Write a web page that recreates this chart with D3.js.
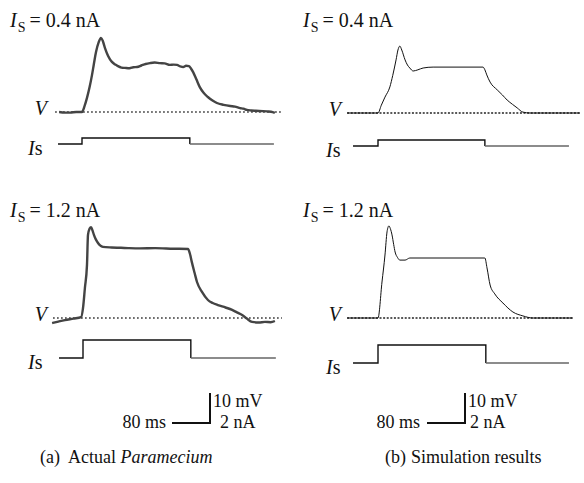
<!DOCTYPE html>
<html>
<head>
<meta charset="utf-8">
<script src="https://cdn.jsdelivr.net/npm/d3@7/dist/d3.min.js"></script>
<style>
  html, body { margin: 0; padding: 0; background: #fff; }
  svg { display: block; font-family: "Liberation Serif", "Times New Roman", serif; }
</style>
</head>
<body>
<svg id="chart" width="584" height="483"></svg>
<script>
// time in ms from stimulus onset, membrane potential in mV above rest
const aTopT = [-48, -36, -25, -12, 0, 5, 10.5, 16, 21, 25, 29.5, 35, 40, 44, 48.4, 55, 63, 70, 76, 83, 90.5, 100, 108, 116, 125, 134, 143, 153, 164, 174, 185, 193, 200, 207, 213, 219, 225, 229, 234, 241, 248, 256, 265, 274, 284, 298, 312, 322, 333, 340, 347, 356, 366, 381, 390, 398, 406];
const aTopV = [0, -0.2, -0.2, 0, 0, 1.8, 4.7, 8.3, 12.3, 16, 20, 23.2, 24.7, 23.6, 21.3, 18.7, 16.7, 15.8, 15.3, 14.8, 14.7, 14.6, 14.9, 15, 15.5, 16, 16.3, 16.5, 16.3, 16.2, 15.7, 15.8, 15.7, 15.2, 15, 15.4, 15.3, 14.6, 13.3, 10.8, 8.3, 6.4, 5, 3.9, 3, 2.4, 2, 1.8, 1.3, 1.1, 0.7, 0.5, 0.4, 0.3, 0.2, 0.1, -0.3];

const bTopT = [-65, 0, 7, 14.7, 25, 31, 38, 42, 46, 50, 57, 62, 67, 74, 84, 95, 116, 221, 225, 229, 236, 251, 262, 272, 283, 293, 305, 320, 425];
const bTopV = [0, 0, 2.6, 5.3, 8.7, 12.5, 17.7, 21, 22.3, 21, 17.7, 16, 15, 14, 14.4, 15, 15.3, 15.3, 14.4, 12.7, 10.3, 7.7, 6, 4.3, 2.9, 1.7, 0.3, 0, 0];

const aBotT = [-65, -52, -38, -20, -4, 0, 4, 8.4, 10.5, 14, 17, 20, 23, 27, 31.6, 36, 42, 60, 80, 95, 120, 152, 190, 221, 225, 229, 235, 240, 250.5, 263, 273, 284, 300, 314, 325, 335, 345, 356, 370, 383, 395, 404];
const aBotV = [-1.7, -1.2, -0.7, -0.2, 0.3, 3.3, 10, 17.7, 27.7, 29.8, 30.3, 29.2, 27.7, 26.2, 25, 24.2, 23.7, 23.5, 23.4, 23.3, 23.2, 23.3, 23.1, 23, 21.5, 18.7, 15, 12, 8.7, 6, 5, 4.3, 3.5, 2.7, 1.8, 1, -0.2, -1.3, -1.5, -1.3, -1.4, -1];

const bBotT = [-65, 0, 8.4, 14.7, 19, 21, 23, 26, 29.5, 33, 36, 41, 46, 57, 67, 225, 229.5, 236, 246, 263, 284, 305, 326, 410];
const bBotV = [0, 0, 12, 21, 28.7, 30.2, 30.7, 29.8, 27.7, 24.5, 22, 20.2, 19.3, 19.3, 20, 20, 16.7, 11, 8, 5, 2, 0.7, 0, 0];

// stimulus current: start, onset, offset, end (ms) and amplitude (nA)
const aTopStim = [-50.5, 0, 227, 404];
const bTopStim = [-52.6, 0, 225, 402];
const aBotStim = [-50.5, 0, 227, 406];
const bBotStim = [-52.6, 0, 227, 402];
const stimAmps = [0.4, 0.4, 1.2, 1.2];
const titles = ["0.4 nA", "0.4 nA", "1.2 nA", "1.2 nA"];

const scaleBarMs = 80, scaleBarMv = 10, scaleBarNa = 2;
const captions = ["Actual", "Simulation results"];

const svg = d3.select("#chart");

const panels = [
  { t: aTopT, v: aTopV, stim: aTopStim, amp: stimAmps[0], title: titles[0], actual: true, dotPad: [-4, 7],
    x0: 82, base: 112, isBase: 144, titleX: 10, titleY: 27, vLabelX: 47, isLabelX: 28 },
  { t: bTopT, v: bTopV, stim: bTopStim, amp: stimAmps[1], title: titles[1], actual: false, dotPad: [0, 0],
    x0: 378, base: 113, isBase: 146, titleX: 303, titleY: 27, vLabelX: 341, isLabelX: 326 },
  { t: aBotT, v: aBotV, stim: aBotStim, amp: stimAmps[2], title: titles[2], actual: true, dotPad: [1, 7],
    x0: 83, base: 318, isBase: 358, titleX: 10, titleY: 217, vLabelX: 47, isLabelX: 28 },
  { t: bBotT, v: bBotV, stim: bBotStim, amp: stimAmps[3], title: titles[3], actual: false, dotPad: [0, 0],
    x0: 378, base: 318, isBase: 363, titleX: 303, titleY: 217, vLabelX: 341, isLabelX: 326 }
];

const pxPerMs = 0.475, pxPerMv = 3.0, pxPerNa = 15;

panels.forEach(p => {
  const x = d3.scaleLinear().domain([0, 1]).range([p.x0, p.x0 + pxPerMs]);
  const yV = d3.scaleLinear().domain([0, 1]).range([p.base, p.base - pxPerMv]);
  const yI = d3.scaleLinear().domain([0, 1]).range([p.isBase, p.isBase - pxPerNa]);
  const g = svg.append("g");

  // title  I_S = ...
  const title = g.append("text")
    .attr("x", p.titleX).attr("y", p.titleY)
    .attr("font-size", 20).attr("fill", "#111");
  title.append("tspan").attr("font-style", "italic").text("I");
  title.append("tspan").attr("font-size", 14).attr("dy", 5).attr("dx", 1).text("S");
  title.append("tspan").attr("dy", -5).attr("dx", 4).text("= " + p.title);

  // dotted rest line
  const tExtent = d3.extent(p.t);
  g.append("line")
    .attr("x1", x(tExtent[0]) + p.dotPad[0]).attr("x2", x(tExtent[1]) + p.dotPad[1])
    .attr("y1", yV(0)).attr("y2", yV(0))
    .attr("stroke", "#222").attr("stroke-width", 1.4)
    .attr("stroke-dasharray", p.actual ? "1.5,2.5" : "2,1.6");

  // membrane potential trace
  const vData = p.t.map((t, i) => [t, p.v[i]]);
  const line = d3.line().x(d => x(d[0])).y(d => yV(d[1])).curve(d3.curveMonotoneX);
  g.append("path")
    .attr("d", line(vData))
    .attr("fill", "none")
    .attr("stroke", p.actual ? "#444" : "#111")
    .attr("stroke-width", p.actual ? 2.4 : 1)
    .attr("stroke-linejoin", "round");

  // stimulus current
  const s = p.stim;
  const iOn = [[s[0], 0], [s[1], p.amp], [s[2], 0]];
  const iOff = [[s[2], 0], [s[3], 0]];
  const step = d3.line().x(d => x(d[0])).y(d => yI(d[1])).curve(d3.curveStepAfter);
  g.append("path").attr("d", step(iOn.concat([[s[2], 0]])))
    .attr("fill", "none").attr("stroke", "#111").attr("stroke-width", 1.4);
  g.append("path").attr("d", step(iOff))
    .attr("fill", "none").attr("stroke", "#666").attr("stroke-width", 1.3);

  // labels
  g.append("text").attr("x", p.vLabelX).attr("y", yV(0) + 3)
    .attr("text-anchor", "end").attr("font-size", 20).attr("font-style", "italic")
    .attr("fill", "#111").text("V");
  const isLabel = g.append("text").attr("x", p.isLabelX).attr("y", p.isBase + 11)
    .attr("font-size", 20).attr("fill", "#111");
  isLabel.append("tspan").attr("font-style", "italic").text("I");
  isLabel.append("tspan").text("s");
});

// scale bars
const bars = [
  { x: 172, y: 423, msRight: 166, indent2: 7 },
  { x: 427, y: 423, msRight: 420, indent2: 2 }
];
bars.forEach(b => {
  const w = scaleBarMs * pxPerMs, h = scaleBarMv * pxPerMv;
  svg.append("path")
    .attr("d", `M${b.x},${b.y}H${b.x + w}V${b.y - h}`)
    .attr("fill", "none").attr("stroke", "#111").attr("stroke-width", 2);
  svg.append("text").attr("x", b.msRight).attr("y", b.y + 5).attr("text-anchor", "end")
    .attr("font-size", 18).attr("fill", "#111").text(scaleBarMs + " ms");
  svg.append("text").attr("x", b.x + w + 3).attr("y", b.y - 16)
    .attr("font-size", 18).attr("fill", "#111").text(scaleBarMv + " mV");
  svg.append("text").attr("x", b.x + w + 3 + b.indent2).attr("y", b.y + 5)
    .attr("font-size", 18).attr("fill", "#111").text(scaleBarNa + " nA");
});

// captions
const capA = svg.append("text").attr("x", 40).attr("y", 463).attr("font-size", 18).attr("fill", "#111");
capA.append("tspan").text("(a)");
capA.append("tspan").attr("dx", 8).text(captions[0] + " ");
capA.append("tspan").attr("font-style", "italic").text("Paramecium");
const capB = svg.append("text").attr("x", 385).attr("y", 463).attr("font-size", 18).attr("fill", "#111");
capB.append("tspan").text("(b)");
capB.append("tspan").attr("dx", 5).text(captions[1]);
</script>
</body>
</html>
